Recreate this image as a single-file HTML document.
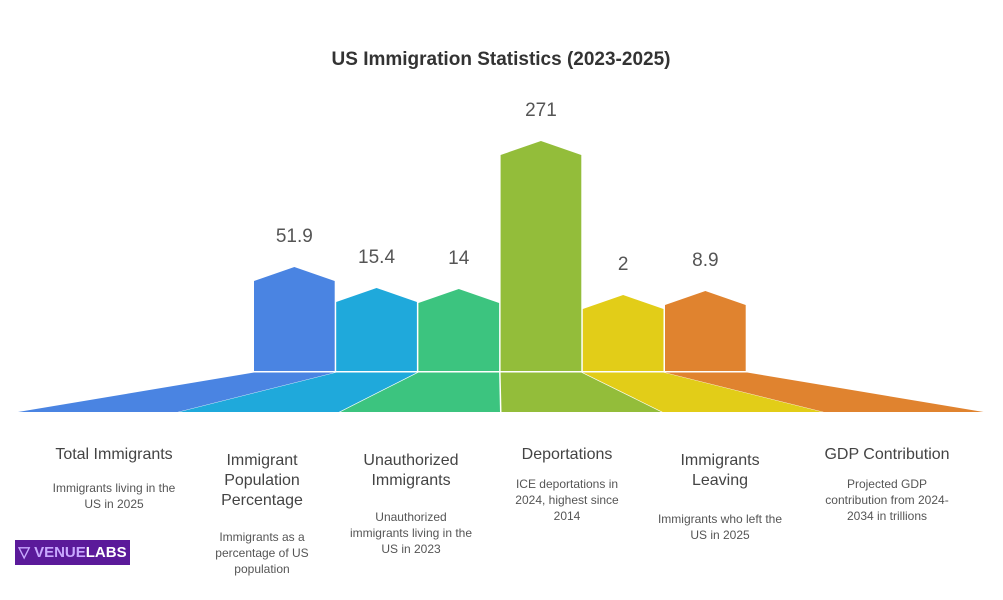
<!DOCTYPE html>
<html><head><meta charset="utf-8"><style>
body{margin:0;background:#fff;font-family:"Liberation Sans",sans-serif}
#wrap{position:relative;width:1003px;height:600px;overflow:hidden;background:#fff}
.t{position:absolute;text-align:center;color:#444;font-size:16px;line-height:20px;transform:translateX(-50%)}
.d{position:absolute;text-align:center;color:#555;font-size:12px;line-height:16px;transform:translateX(-50%)}
</style></head><body>
<div id="wrap">
<svg id="svg" width="1003" height="600" style="position:absolute;left:0;top:0">
<text x="501" y="65" text-anchor="middle" font-size="19" font-weight="bold" fill="#333">US Immigration Statistics (2023-2025)</text>
</svg>
<div class="t" style="left:114px;top:445px">Total Immigrants</div>
<div class="d" style="left:114px;top:480px;width:135px">Immigrants living in the US in 2025</div>
<div class="t" style="left:262px;top:451px;width:130px">Immigrant Population Percentage</div>
<div class="d" style="left:262px;top:529px;width:110px">Immigrants as a percentage of US population</div>
<div class="t" style="left:411px;top:451px;width:140px">Unauthorized Immigrants</div>
<div class="d" style="left:411px;top:509px;width:132px">Unauthorized immigrants living in the US in 2023</div>
<div class="t" style="left:567px;top:445px;width:140px">Deportations</div>
<div class="d" style="left:567px;top:476px;width:125px">ICE deportations in 2024, highest since 2014</div>
<div class="t" style="left:720px;top:451px;width:130px">Immigrants Leaving</div>
<div class="d" style="left:720px;top:511px;width:132px">Immigrants who left the US in 2025</div>
<div class="t" style="left:887px;top:445px;width:160px">GDP Contribution</div>
<div class="d" style="left:887px;top:476px;width:130px">Projected GDP contribution from 2024-2034 in trillions</div>
<div style="position:absolute;left:15px;top:540px;width:115px;height:25px;background:#5b1a9a;color:#fff;font-weight:bold;font-size:15px;line-height:25px;text-align:center"><span style="color:#c9a8ff">▽ VENUE</span>LABS</div>
</div>
<script>
const categories=["Total Immigrants","Immigrant Population Percentage","Unauthorized Immigrants","Deportations","Immigrants Leaving","GDP Contribution"];
const values=[51.9,15.4,14,271,2,8.9];
const valueLabels=["51.9","15.4","14","271","2","8.9"];
const colors=["#4a84e2","#1fa9db","#3cc47f","#93bd3a","#e2cd18","#e0832f"];
// polylinear value scale (chart uses non-linear height encoding)
const scaleDomain=[0,2,8.9,14,15.4,51.9,271];
const scaleRange=[0,62,66,68,69,90,216];
function hScale(v){for(let i=1;i<scaleDomain.length;i++){if(v<=scaleDomain[i]||i===scaleDomain.length-1){const t=(v-scaleDomain[i-1])/(scaleDomain[i]-scaleDomain[i-1]);return scaleRange[i-1]+t*(scaleRange[i]-scaleRange[i-1]);}}}
const x0=254,bw=82.2,base=371,botY=412,botL=18,botR=985,peak=14;
function xBar(i){return x0+i*bw;}
function xBot(i){return botL+i*(botR-botL)/categories.length;}
const svg=document.getElementById('svg');const NS='http://www.w3.org/2000/svg';
values.forEach((v,i)=>{
 const xl=xBar(i),xr=xBar(i+1)-1.5,h=hScale(v),sh=base-h,pk=sh-peak,xm=(xl+xr)/2;
 const p=document.createElementNS(NS,'polygon');
 p.setAttribute('points',`${xl},${base} ${xl},${sh} ${xm},${pk} ${xr},${sh} ${xr},${base}`);
 p.setAttribute('fill',colors[i]);
 
 
 svg.appendChild(p);
 const b=document.createElementNS(NS,'polygon');
 b.setAttribute('points',`${xl},${base+1.5} ${xBar(i+1)-(i<values.length-1?1.5:0)},${base+1.5} ${xBot(i+1)-1.5},${botY} ${xBot(i)},${botY}`);
 b.setAttribute('fill',colors[i]);
 
 
 svg.appendChild(b);
 const t=document.createElementNS(NS,'text');
 t.setAttribute('x',xm);t.setAttribute('y',pk-25);
 t.setAttribute('text-anchor','middle');t.setAttribute('font-size','19');t.setAttribute('fill','#555');
 t.textContent=valueLabels[i];
 
 
 svg.appendChild(t);
});
</script>
</body></html>
